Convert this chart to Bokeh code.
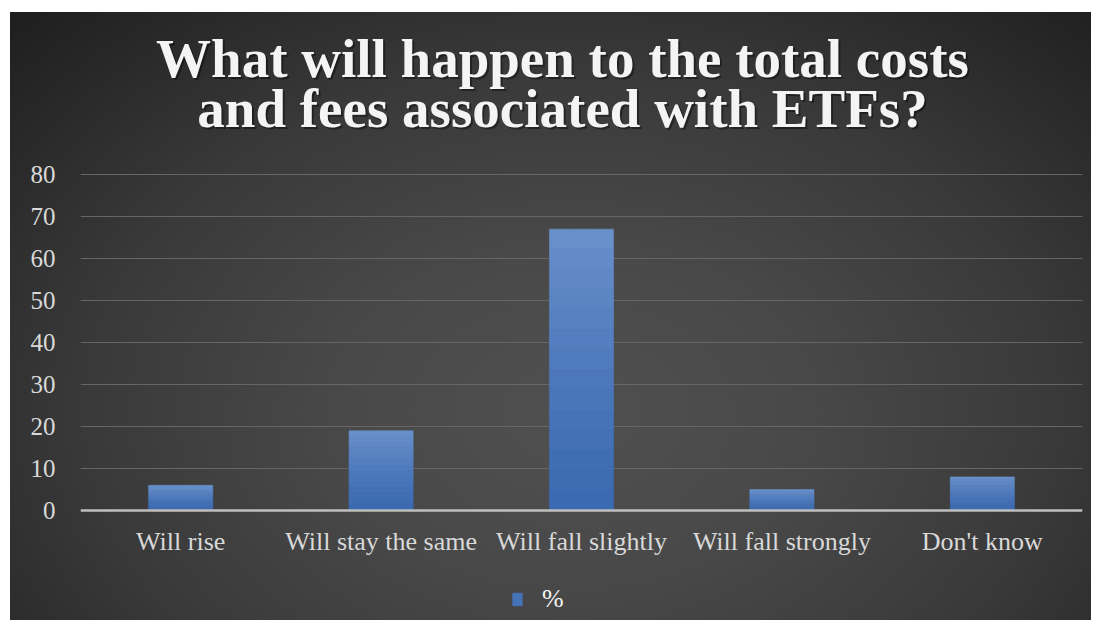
import numpy as np
from bokeh.plotting import figure
from bokeh.models import (ColumnDataSource, Range1d, Label, Legend, LegendItem,
                          InlineStyleSheet, FactorRange, FixedTicker)
from bokeh.embed import file_html
from bokeh.resources import INLINE

categories = ["Will rise", "Will stay the same", "Will fall slightly", "Will fall strongly", "Don't know"]
values = [6, 19, 67, 5, 8]
y_ticks = [0, 10, 20, 30, 40, 50, 60, 70, 80]
series_name = "%"
title_lines = ["What will happen to the total costs", "and fees associated with ETFs?"]

p = figure(x_range=FactorRange(*categories, range_padding=0),
           y_range=Range1d(-26.2, 118.6),
           width=1081, height=608, title=None,
           output_backend="svg", toolbar_location=None,
           min_border_left=70, min_border_right=9,
           min_border_top=0, min_border_bottom=0)
p.margin = (12, 0, 0, 10)
p.background_fill_color = None
p.border_fill_color = None
p.outline_line_color = None
p.stylesheets = [InlineStyleSheet(css=""":host {
  background: radial-gradient(ellipse 75% 95% at 52% 66%, #505050 0%, #484848 30%, #393939 60%, #272727 85%, #1d1d1d 100%);
}""")]

serif = "Liberation Serif"

# bars: vertical colour gradient made of stacked bands of each bar's own value
vals = np.array(values, dtype=float)
n_bands = 14
c_bot = np.array([0x3c, 0x6a, 0xb2])
c_top = np.array([0x6a, 0x91, 0xcb])
band_renderers = []
for k in range(n_bands):
    f0, f1 = k / n_bands, (k + 1) / n_bands
    c = (c_bot + (c_top - c_bot) * ((f0 + f1) / 2) ** 1.3).astype(int)
    col = "#%02x%02x%02x" % tuple(c)
    src = ColumnDataSource(dict(cat=categories, bottom=vals * f0, top=vals * f1))
    rr = p.vbar(x="cat", bottom="bottom", top="top", width=0.32, source=src,
                fill_color=col, line_color=col, line_width=0.6)
    band_renderers.append(rr)

p.yaxis.ticker = FixedTicker(ticks=y_ticks)
p.yaxis.axis_line_color = None
p.yaxis.major_tick_line_color = None
p.yaxis.minor_tick_line_color = None
p.yaxis.major_tick_out = 0
p.yaxis.major_label_standoff = 25
p.yaxis.major_label_text_font = serif
p.yaxis.major_label_text_font_size = "25px"
p.yaxis.major_label_text_color = "#d9d9d9"

p.xaxis.fixed_location = 0
p.xaxis.axis_line_color = "#bfbfbf"
p.xaxis.axis_line_width = 2.5
p.xaxis.major_tick_line_color = None
p.xaxis.minor_tick_line_color = None
p.xaxis.major_tick_out = 0
p.xaxis.major_label_standoff = 17
p.xaxis.major_label_text_font = serif
p.xaxis.major_label_text_font_size = "26px"
p.xaxis.major_label_text_color = "#d9d9d9"

p.xgrid.grid_line_color = None
p.ygrid.grid_line_color = "#666666"
p.ygrid.grid_line_width = 1
p.ygrid.ticker = FixedTicker(ticks=y_ticks)

# title (two centred lines with a soft drop shadow), screen units from the frame's bottom-left
for i, line in enumerate(title_lines):
    base_y = 562 - 50 * i
    p.add_layout(Label(x=484, y=base_y - 2, x_units="screen", y_units="screen", text=line,
                       text_align="center", text_baseline="alphabetic",
                       text_font=serif, text_font_size="55px", text_font_style="bold",
                       text_color="#000000", text_alpha=0.4))
    p.add_layout(Label(x=482, y=base_y, x_units="screen", y_units="screen", text=line,
                       text_align="center", text_baseline="alphabetic",
                       text_font=serif, text_font_size="55px", text_font_style="bold",
                       text_color="#f4f4f4"))

legend = Legend(items=[LegendItem(label=series_name, renderers=[band_renderers[n_bands // 3]])],
                orientation="horizontal", location=(431, 6),
                background_fill_alpha=0, border_line_color=None,
                label_text_font=serif, label_text_font_size="26px",
                label_text_color="#f4f4f4", glyph_width=12, glyph_height=16,
                label_standoff=19, margin=0, padding=2)
p.add_layout(legend, "center")

open("out.html", "w").write(file_html(p, INLINE))
